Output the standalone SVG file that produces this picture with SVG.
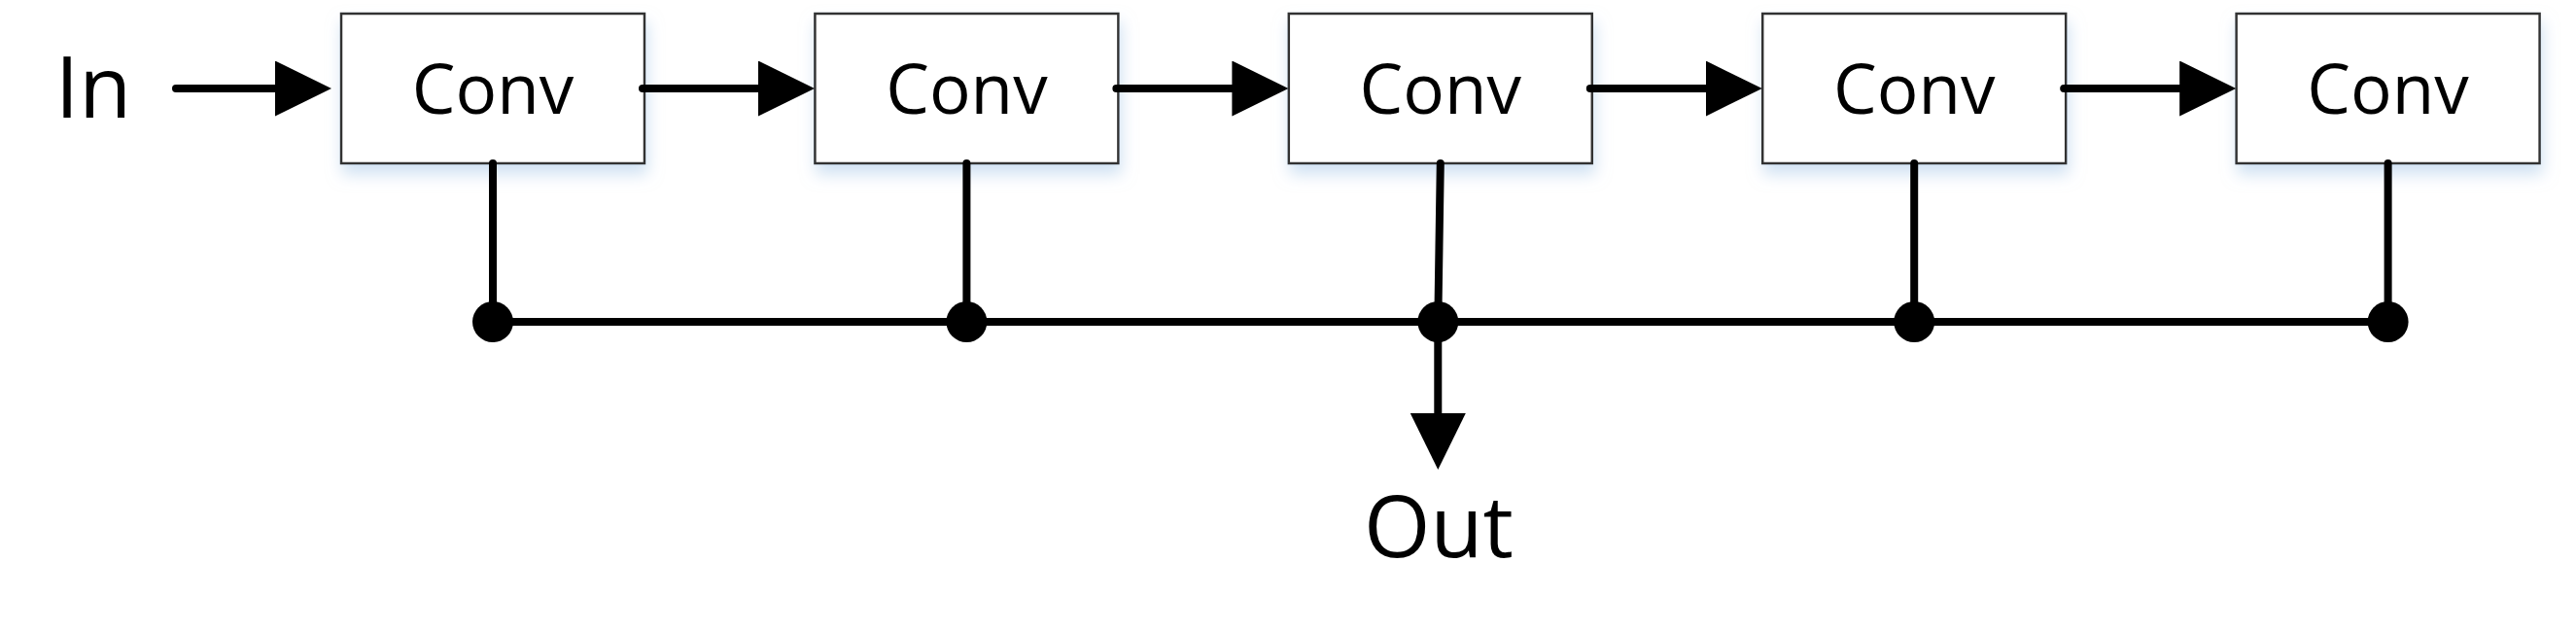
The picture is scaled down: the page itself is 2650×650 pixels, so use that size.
<svg xmlns="http://www.w3.org/2000/svg" width="2650" height="650" viewBox="0 0 2650 650">
<defs>
<style>
.box{fill:#fff;stroke:#333;stroke-width:2.5;filter:url(#sh)}
.lbl{font-family:"Open Sans","Liberation Sans",sans-serif;font-size:71px;fill:#000;text-anchor:middle}
.big{font-family:"Open Sans","Liberation Sans",sans-serif;font-size:88px;fill:#000;text-anchor:middle}
.ln{stroke:#000;stroke-width:8;fill:none;stroke-linecap:round}
.dot{fill:#000}
</style>
<filter id="sh" x="-10%" y="-10%" width="125%" height="150%">
<feDropShadow dx="2" dy="10" stdDeviation="8" flood-color="#a9c8e8" flood-opacity="0.55"/>
</filter>
<marker id="ah" markerUnits="userSpaceOnUse" markerWidth="60" markerHeight="58" refX="1" refY="28.5" orient="auto">
<path d="M0,0 L58,28.5 L0,57 z" fill="#000"/>
</marker>
</defs>
<g id="in-label"><text class="big" x="96" y="121">In</text></g>
<g id="conv1"><rect class="box" x="351" y="14" width="312" height="154"/><text class="lbl" x="507" y="117">Conv</text></g>
<g id="conv2"><rect class="box" x="838.4" y="14" width="312" height="154"/><text class="lbl" x="994.4" y="117">Conv</text></g>
<g id="conv3"><rect class="box" x="1325.8" y="14" width="312" height="154"/><text class="lbl" x="1481.8" y="117">Conv</text></g>
<g id="conv4"><rect class="box" x="1813.2" y="14" width="312" height="154"/><text class="lbl" x="1969.2" y="117">Conv</text></g>
<g id="conv5"><rect class="box" x="2300.6" y="14" width="312" height="154"/><text class="lbl" x="2456.6" y="117">Conv</text></g>
<g id="out-label"><text class="big" x="1480" y="573">Out</text></g>
<g id="connectors">
<path class="ln" d="M181,91 H284" marker-end="url(#ah)"/>
<path class="ln" d="M661,91 H781" marker-end="url(#ah)"/>
<path class="ln" d="M1148.4,91 H1268.4" marker-end="url(#ah)"/>
<path class="ln" d="M1635.8,91 H1755.8" marker-end="url(#ah)"/>
<path class="ln" d="M2123.2,91 H2243.2" marker-end="url(#ah)"/>
<path class="ln" d="M507,168 V331"/>
<path class="ln" d="M994.4,168 V331"/>
<path class="ln" d="M1481.8,168 L1479.3,331"/>
<path class="ln" d="M1969.2,168 V331"/>
<path class="ln" d="M2456.6,168 V331"/>
<path class="ln" d="M507,331 H2456.6"/>
<path class="ln" d="M1479.3,331 V426" marker-end="url(#ah)"/>
<circle class="dot" cx="507" cy="331" r="21"/>
<circle class="dot" cx="994.4" cy="331" r="21"/>
<circle class="dot" cx="1479.3" cy="331" r="21"/>
<circle class="dot" cx="1969.2" cy="331" r="21"/>
<circle class="dot" cx="2456.6" cy="331" r="21"/>
</g>
</svg>
